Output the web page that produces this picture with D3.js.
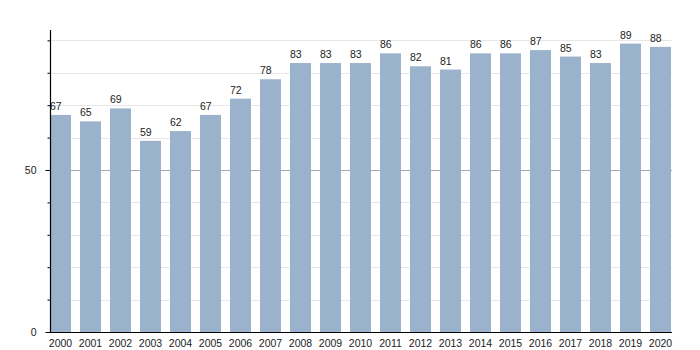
<!DOCTYPE html>
<html>
<head>
<meta charset="utf-8">
<script src="https://cdn.jsdelivr.net/npm/d3@7"></script>
<style>
  html, body { margin: 0; padding: 0; background: #fff; }
  svg { display: block; font-family: "Liberation Sans", Arial, sans-serif; }
</style>
</head>
<body>
<svg id="chart" width="700" height="350"></svg>
<script>
// Yearly values
const years = ["2000","2001","2002","2003","2004","2005","2006","2007","2008","2009","2010",
               "2011","2012","2013","2014","2015","2016","2017","2018","2019","2020"];
const values = [67, 65, 69, 59, 62, 67, 72, 78, 83, 83, 83, 86, 82, 81, 86, 86, 87, 85, 83, 89, 88];
const yTickLabels = [0, 50];
const yMinorTicks = [10, 20, 30, 40, 60, 70, 80, 90];

const svg = d3.select("#chart");
const plotLeft = 50, plotRight = 672, plotBottom = 332, plotTop = 30;

const x = d3.scaleBand()
  .domain(years)
  .range([plotLeft, 671])
  .paddingInner(0.3)
  .paddingOuter(0);

const y = d3.scaleLinear()
  .domain([0, 93.2])
  .range([plotBottom, plotTop]);

// light horizontal gridlines every 10
svg.append("g")
  .selectAll("line")
  .data(yMinorTicks)
  .join("line")
  .attr("x1", plotLeft).attr("x2", plotRight)
  .attr("y1", d => Math.round(y(d)) + 0.5)
  .attr("y2", d => Math.round(y(d)) + 0.5)
  .attr("stroke", "#e6e6e6")
  .attr("stroke-width", 1);

// darker gridline at 50
svg.append("line")
  .attr("x1", plotLeft).attr("x2", plotRight)
  .attr("y1", Math.round(y(50)) + 0.5)
  .attr("y2", Math.round(y(50)) + 0.5)
  .attr("stroke", "#a8a8a8")
  .attr("stroke-width", 1);

// bars
svg.append("g")
  .selectAll("rect")
  .data(values)
  .join("rect")
  .attr("x", (d, i) => x(years[i]))
  .attr("y", d => y(d))
  .attr("width", x.bandwidth())
  .attr("height", d => y(0) - y(d))
  .attr("fill", "#9ab2cb");

// value labels
svg.append("g")
  .selectAll("text")
  .data(values)
  .join("text")
  .attr("x", (d, i) => x(years[i]))
  .attr("y", d => y(d) - 5)
  .attr("font-size", 10.5)
  .attr("fill", "#222")
  .text(d => d);

// y axis: labelled major ticks
const yAxis = svg.append("g")
  .attr("transform", `translate(${plotLeft + 0.5},0)`)
  .call(d3.axisLeft(y).tickValues(yTickLabels).tickSize(5).tickPadding(9).tickFormat(d3.format("d")))
  .call(g => g.select(".domain").remove());
yAxis.selectAll("text").attr("font-size", 10.5).attr("fill", "#222").attr("font-family", "Liberation Sans, Arial, sans-serif");
yAxis.selectAll("line").attr("stroke", "#000");

// y axis: minor ticks
svg.append("g")
  .attr("transform", `translate(${plotLeft + 0.5},0)`)
  .call(d3.axisLeft(y).tickValues(yMinorTicks).tickSize(3).tickFormat(""))
  .call(g => g.select(".domain").remove())
  .selectAll("line").attr("stroke", "#000");

// axis lines
svg.append("line")
  .attr("x1", plotLeft + 0.5).attr("x2", plotLeft + 0.5)
  .attr("y1", plotTop).attr("y2", plotBottom + 1)
  .attr("stroke", "#000").attr("stroke-width", 1.2);
svg.append("line")
  .attr("x1", plotLeft).attr("x2", plotRight)
  .attr("y1", plotBottom + 0.5).attr("y2", plotBottom + 0.5)
  .attr("stroke", "#000").attr("stroke-width", 1.2);

// x axis labels
const xAxis = svg.append("g")
  .attr("transform", `translate(0,${plotBottom})`)
  .call(d3.axisBottom(x).tickSize(0).tickPadding(8))
  .call(g => g.select(".domain").remove());
xAxis.selectAll("text").attr("font-size", 10.5).attr("fill", "#222").attr("font-family", "Liberation Sans, Arial, sans-serif");
</script>
</body>
</html>
